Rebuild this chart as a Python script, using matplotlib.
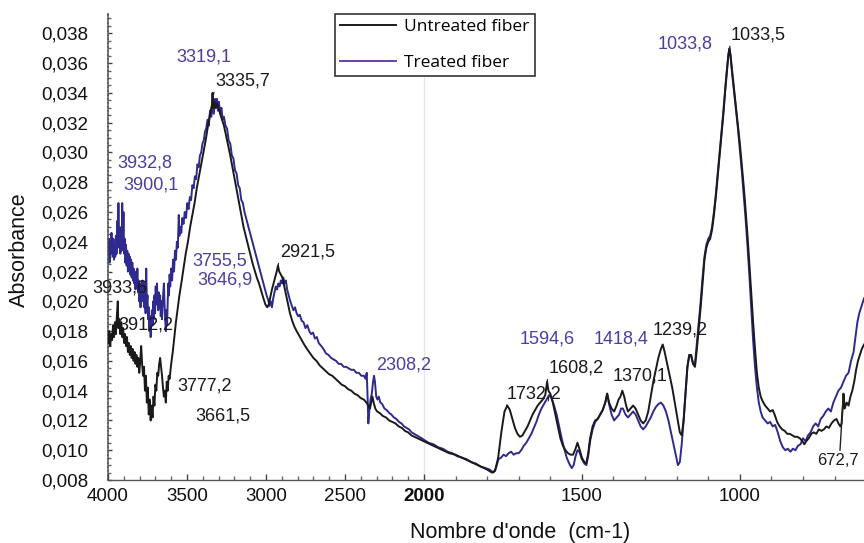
import numpy as np
import matplotlib
matplotlib.use("Agg")
import matplotlib.pyplot as plt
from matplotlib.ticker import FixedLocator, FixedFormatter, NullFormatter

# ---------------- data (wavenumber cm-1, absorbance) ----------------
untreated = [
    (3998, 0.0172), (3992, 0.0180), (3986, 0.0170), (3980, 0.0178), (3974, 0.0174),
    (3968, 0.0184), (3962, 0.0176), (3956, 0.0186), (3950, 0.0178), (3944, 0.0190),
    (3938, 0.0200), (3934, 0.0182), (3928, 0.0188), (3922, 0.0178), (3916, 0.0186),
    (3910, 0.0176), (3904, 0.0182), (3898, 0.0172), (3892, 0.0178), (3886, 0.0170),
    (3880, 0.0176), (3874, 0.0166), (3868, 0.0172), (3862, 0.0164), (3856, 0.0170),
    (3850, 0.0162), (3844, 0.0168), (3838, 0.0160), (3832, 0.0166), (3826, 0.0158),
    (3820, 0.0164), (3814, 0.0156), (3808, 0.0162), (3802, 0.0152), (3796, 0.0160),
    (3790, 0.0170), (3784, 0.0158), (3778, 0.0150), (3772, 0.0156), (3766, 0.0140),
    (3760, 0.0150), (3754, 0.0132), (3748, 0.0142), (3742, 0.0124), (3736, 0.0134),
    (3730, 0.0120), (3724, 0.0130), (3718, 0.0122), (3712, 0.0136), (3706, 0.0130),
    (3700, 0.0144), (3694, 0.0140), (3688, 0.0152), (3682, 0.0150), (3676, 0.0158),
    (3670, 0.0162), (3664, 0.0156), (3658, 0.0150), (3652, 0.0142), (3646, 0.0136),
    (3640, 0.0140), (3634, 0.0132), (3628, 0.0146), (3622, 0.0140), (3616, 0.0150),
    (3610, 0.0148), (3600, 0.0158), (3590, 0.0166), (3580, 0.0176), (3570, 0.0186),
    (3560, 0.0194), (3548, 0.0204), (3536, 0.0212), (3522, 0.0222), (3508, 0.0232),
    (3494, 0.0240), (3480, 0.0250), (3466, 0.0258), (3452, 0.0266), (3438, 0.0276),
    (3424, 0.0284), (3410, 0.0292), (3396, 0.0300), (3382, 0.0308), (3370, 0.0316),
    (3360, 0.0322), (3350, 0.0328), (3342, 0.0332), (3338, 0.0340), (3334, 0.0330),
    (3326, 0.0334), (3318, 0.0330), (3310, 0.0333), (3300, 0.0330), (3290, 0.0326),
    (3278, 0.0322), (3266, 0.0318), (3254, 0.0312), (3240, 0.0305), (3226, 0.0298),
    (3212, 0.0290), (3198, 0.0282), (3184, 0.0274), (3170, 0.0266), (3156, 0.0258),
    (3142, 0.0250), (3128, 0.0244), (3114, 0.0238), (3100, 0.0232), (3086, 0.0226),
    (3072, 0.0221), (3058, 0.0216), (3044, 0.0212), (3030, 0.0207), (3016, 0.0202),
    (3004, 0.0198), (2992, 0.0196), (2982, 0.0198), (2972, 0.0203), (2962, 0.0208),
    (2952, 0.0212), (2942, 0.0216), (2932, 0.0220), (2924, 0.0224), (2916, 0.0220),
    (2906, 0.0218), (2896, 0.0216), (2884, 0.0210), (2872, 0.0204), (2860, 0.0198),
    (2848, 0.0192), (2834, 0.0187), (2820, 0.0183), (2806, 0.0180), (2790, 0.0177),
    (2774, 0.0174), (2758, 0.0171), (2740, 0.0168), (2720, 0.0165), (2700, 0.0162),
    (2680, 0.0160), (2660, 0.0157), (2640, 0.0155), (2620, 0.0153), (2600, 0.0151),
    (2580, 0.0150), (2560, 0.0148), (2540, 0.0146), (2520, 0.0144), (2500, 0.0143),
    (2480, 0.0141), (2460, 0.0140), (2440, 0.0138), (2420, 0.0137), (2400, 0.0135),
    (2380, 0.0134), (2364, 0.0132), (2352, 0.0130), (2342, 0.0128), (2334, 0.0132),
    (2326, 0.0136), (2318, 0.0132), (2308, 0.0128), (2296, 0.0126), (2280, 0.0125),
    (2260, 0.0123), (2240, 0.0122), (2220, 0.0120), (2200, 0.0119), (2180, 0.0118),
    (2160, 0.0116), (2140, 0.0115), (2120, 0.0113), (2100, 0.0112), (2080, 0.0110),
    (2060, 0.0109), (2040, 0.0108), (2020, 0.0107), (2000, 0.0106), (1980, 0.0104),
    (1960, 0.0102), (1940, 0.0100), (1920, 0.0098), (1900, 0.0097), (1880, 0.0095),
    (1860, 0.0093), (1840, 0.0091), (1820, 0.0089), (1800, 0.0087), (1785, 0.0085),
    (1775, 0.0086), (1765, 0.0095), (1755, 0.0112), (1745, 0.0126), (1736, 0.0130),
    (1728, 0.0127), (1720, 0.0121), (1712, 0.0115), (1704, 0.0111), (1696, 0.0109),
    (1688, 0.0110), (1680, 0.0113), (1672, 0.0116), (1664, 0.0120), (1656, 0.0124),
    (1648, 0.0127), (1640, 0.0130), (1632, 0.0132), (1624, 0.0134), (1616, 0.0137),
    (1610, 0.0146), (1606, 0.0140), (1600, 0.0138), (1592, 0.0132), (1584, 0.0124),
    (1576, 0.0116), (1568, 0.0108), (1560, 0.0103), (1552, 0.0100), (1544, 0.0098),
    (1536, 0.0097), (1528, 0.0097), (1520, 0.0101), (1514, 0.0105), (1508, 0.0101),
    (1500, 0.0095), (1492, 0.0092), (1486, 0.0091), (1480, 0.0098), (1474, 0.0108),
    (1466, 0.0116), (1458, 0.0120), (1450, 0.0121), (1442, 0.0124), (1434, 0.0127),
    (1426, 0.0132), (1420, 0.0138), (1414, 0.0132), (1406, 0.0128), (1398, 0.0126),
    (1390, 0.0130), (1384, 0.0134), (1378, 0.0136), (1372, 0.0140), (1366, 0.0136),
    (1360, 0.0130), (1354, 0.0126), (1346, 0.0128), (1338, 0.0130), (1330, 0.0128),
    (1322, 0.0124), (1314, 0.0120), (1306, 0.0118), (1298, 0.0120), (1290, 0.0126),
    (1282, 0.0136), (1274, 0.0146), (1266, 0.0154), (1258, 0.0162), (1250, 0.0168),
    (1244, 0.0171), (1238, 0.0166), (1230, 0.0158), (1222, 0.0150), (1214, 0.0142),
    (1206, 0.0132), (1198, 0.0122), (1190, 0.0112), (1184, 0.0110), (1178, 0.0120),
    (1172, 0.0138), (1166, 0.0156), (1160, 0.0164), (1154, 0.0164), (1148, 0.0158),
    (1142, 0.0156), (1136, 0.0168), (1130, 0.0182), (1124, 0.0196), (1118, 0.0212),
    (1112, 0.0228), (1106, 0.0236), (1100, 0.0240), (1094, 0.0242), (1088, 0.0248),
    (1082, 0.0258), (1076, 0.0270), (1070, 0.0284), (1064, 0.0298), (1058, 0.0312),
    (1052, 0.0326), (1046, 0.0342), (1040, 0.0356), (1036, 0.0366), (1033, 0.0369),
    (1030, 0.0366), (1024, 0.0354), (1018, 0.0342), (1012, 0.0330), (1006, 0.0318),
    (1000, 0.0306), (994, 0.0292), (988, 0.0278), (982, 0.0262), (976, 0.0245),
    (970, 0.0226), (964, 0.0206), (958, 0.0186), (952, 0.0168), (946, 0.0152),
    (940, 0.0142), (934, 0.0136), (928, 0.0133), (920, 0.0130), (912, 0.0128),
    (904, 0.0126), (896, 0.0127), (890, 0.0124), (882, 0.0119), (874, 0.0116),
    (866, 0.0114), (858, 0.0113), (850, 0.0111), (842, 0.0111), (834, 0.0110),
    (826, 0.0109), (818, 0.0109), (810, 0.0108), (802, 0.0106), (796, 0.0104),
    (790, 0.0106), (782, 0.0108), (774, 0.0111), (766, 0.0112), (758, 0.0111),
    (750, 0.0114), (742, 0.0113), (734, 0.0114), (726, 0.0116), (718, 0.0115),
    (710, 0.0118), (702, 0.0120), (694, 0.0121), (688, 0.0118), (682, 0.0116),
    (678, 0.0118), (674, 0.0130), (672, 0.0138), (668, 0.0128), (662, 0.0132),
    (656, 0.0130), (650, 0.0136), (644, 0.0140), (638, 0.0146), (632, 0.0154),
    (626, 0.0160), (620, 0.0164), (614, 0.0168), (607, 0.0171),
]

treated = [
    (3998, 0.0232), (3994, 0.0242), (3990, 0.0226), (3986, 0.0240), (3982, 0.0232),
    (3978, 0.0246), (3974, 0.0236), (3970, 0.0230), (3966, 0.0242), (3962, 0.0228),
    (3958, 0.0238), (3954, 0.0230), (3950, 0.0244), (3946, 0.0232), (3942, 0.0254),
    (3938, 0.0236), (3934, 0.0266), (3930, 0.0240), (3926, 0.0250), (3922, 0.0232),
    (3918, 0.0246), (3914, 0.0234), (3910, 0.0266), (3906, 0.0238), (3902, 0.0260),
    (3898, 0.0232), (3894, 0.0242), (3890, 0.0226), (3886, 0.0238), (3882, 0.0224),
    (3878, 0.0234), (3874, 0.0220), (3870, 0.0232), (3866, 0.0222), (3862, 0.0230),
    (3858, 0.0218), (3854, 0.0228), (3850, 0.0216), (3846, 0.0226), (3842, 0.0214),
    (3838, 0.0222), (3834, 0.0212), (3830, 0.0220), (3826, 0.0208), (3822, 0.0218),
    (3818, 0.0210), (3814, 0.0222), (3810, 0.0206), (3806, 0.0214), (3802, 0.0200),
    (3798, 0.0212), (3794, 0.0196), (3790, 0.0210), (3786, 0.0200), (3782, 0.0214),
    (3778, 0.0204), (3774, 0.0212), (3770, 0.0196), (3766, 0.0206), (3762, 0.0192),
    (3758, 0.0222), (3754, 0.0198), (3750, 0.0204), (3746, 0.0188), (3742, 0.0196),
    (3738, 0.0180), (3734, 0.0190), (3730, 0.0176), (3726, 0.0186), (3722, 0.0194),
    (3718, 0.0184), (3714, 0.0200), (3710, 0.0188), (3706, 0.0204), (3702, 0.0192),
    (3698, 0.0210), (3694, 0.0198), (3690, 0.0212), (3686, 0.0200), (3682, 0.0194),
    (3678, 0.0206), (3674, 0.0196), (3670, 0.0204), (3666, 0.0190), (3662, 0.0200),
    (3658, 0.0188), (3654, 0.0198), (3650, 0.0206), (3646, 0.0212), (3642, 0.0198),
    (3638, 0.0188), (3634, 0.0180), (3630, 0.0194), (3626, 0.0184), (3622, 0.0200),
    (3618, 0.0212), (3614, 0.0204), (3610, 0.0218), (3606, 0.0210), (3600, 0.0222),
    (3594, 0.0214), (3588, 0.0228), (3582, 0.0220), (3576, 0.0234), (3570, 0.0228),
    (3564, 0.0240), (3558, 0.0236), (3552, 0.0258), (3548, 0.0244), (3542, 0.0250),
    (3536, 0.0246), (3530, 0.0256), (3522, 0.0252), (3514, 0.0260), (3506, 0.0256),
    (3498, 0.0266), (3490, 0.0262), (3482, 0.0270), (3474, 0.0268), (3466, 0.0278),
    (3458, 0.0276), (3450, 0.0284), (3442, 0.0282), (3434, 0.0292), (3426, 0.0290),
    (3418, 0.0298), (3410, 0.0300), (3402, 0.0306), (3394, 0.0308), (3386, 0.0314),
    (3378, 0.0316), (3370, 0.0322), (3362, 0.0318), (3354, 0.0328), (3346, 0.0324),
    (3338, 0.0332), (3330, 0.0326), (3322, 0.0336), (3316, 0.0330), (3310, 0.0336),
    (3304, 0.0328), (3298, 0.0334), (3290, 0.0326), (3282, 0.0330), (3274, 0.0322),
    (3266, 0.0324), (3256, 0.0318), (3246, 0.0316), (3236, 0.0308), (3226, 0.0306),
    (3216, 0.0298), (3206, 0.0296), (3196, 0.0288), (3186, 0.0286), (3176, 0.0278),
    (3166, 0.0276), (3156, 0.0268), (3146, 0.0266), (3136, 0.0260), (3126, 0.0256),
    (3116, 0.0252), (3106, 0.0248), (3096, 0.0244), (3086, 0.0240), (3076, 0.0236),
    (3066, 0.0232), (3056, 0.0228), (3046, 0.0224), (3036, 0.0220), (3026, 0.0216),
    (3016, 0.0212), (3006, 0.0208), (2996, 0.0204), (2986, 0.0201), (2978, 0.0197),
    (2970, 0.0200), (2962, 0.0196), (2954, 0.0202), (2946, 0.0206), (2938, 0.0210),
    (2930, 0.0208), (2922, 0.0212), (2914, 0.0210), (2906, 0.0214), (2898, 0.0212),
    (2890, 0.0216), (2882, 0.0212), (2874, 0.0214), (2866, 0.0208), (2856, 0.0204),
    (2846, 0.0200), (2836, 0.0197), (2826, 0.0194), (2816, 0.0196), (2806, 0.0192),
    (2796, 0.0190), (2786, 0.0191), (2774, 0.0187), (2762, 0.0186), (2750, 0.0182),
    (2738, 0.0184), (2726, 0.0180), (2714, 0.0178), (2702, 0.0179), (2690, 0.0175),
    (2678, 0.0176), (2666, 0.0172), (2650, 0.0170), (2636, 0.0168), (2620, 0.0165),
    (2604, 0.0164), (2588, 0.0162), (2572, 0.0161), (2556, 0.0160), (2540, 0.0158),
    (2524, 0.0158), (2508, 0.0156), (2492, 0.0156), (2476, 0.0155), (2460, 0.0154),
    (2444, 0.0154), (2428, 0.0152), (2412, 0.0152), (2396, 0.0150), (2380, 0.0150),
    (2370, 0.0148), (2362, 0.0152), (2356, 0.0134), (2352, 0.0118), (2346, 0.0126),
    (2338, 0.0134), (2330, 0.0138), (2322, 0.0146), (2316, 0.0150), (2310, 0.0146),
    (2302, 0.0136), (2294, 0.0134), (2286, 0.0136), (2276, 0.0132), (2264, 0.0131),
    (2250, 0.0128), (2236, 0.0127), (2220, 0.0125), (2206, 0.0124), (2190, 0.0122),
    (2174, 0.0121), (2158, 0.0119), (2142, 0.0118), (2126, 0.0116), (2110, 0.0115),
    (2094, 0.0114), (2078, 0.0112), (2062, 0.0111), (2046, 0.0110), (2030, 0.0109),
    (2014, 0.0108), (2000, 0.0107), (1985, 0.0105), (1970, 0.0104), (1955, 0.0102),
    (1940, 0.0101), (1925, 0.0099), (1910, 0.0098), (1895, 0.0096), (1880, 0.0095),
    (1865, 0.0094), (1850, 0.0092), (1835, 0.0091), (1820, 0.0089), (1805, 0.0088),
    (1792, 0.0087), (1780, 0.0085), (1772, 0.0088), (1764, 0.0094), (1756, 0.0095),
    (1748, 0.0097), (1740, 0.0096), (1732, 0.0098), (1724, 0.0099), (1716, 0.0097),
    (1708, 0.0098), (1700, 0.0098), (1692, 0.0100), (1684, 0.0103), (1676, 0.0105),
    (1668, 0.0108), (1660, 0.0111), (1652, 0.0115), (1644, 0.0119), (1636, 0.0124),
    (1628, 0.0128), (1620, 0.0131), (1612, 0.0134), (1604, 0.0137), (1596, 0.0135),
    (1588, 0.0130), (1580, 0.0124), (1572, 0.0116), (1564, 0.0108), (1556, 0.0101),
    (1548, 0.0095), (1540, 0.0091), (1532, 0.0088), (1526, 0.0090), (1520, 0.0096),
    (1514, 0.0100), (1508, 0.0099), (1500, 0.0094), (1492, 0.0091), (1486, 0.0090),
    (1480, 0.0096), (1474, 0.0106), (1466, 0.0114), (1458, 0.0119), (1450, 0.0121),
    (1442, 0.0124), (1434, 0.0127), (1426, 0.0132), (1420, 0.0138), (1414, 0.0131),
    (1406, 0.0124), (1398, 0.0120), (1390, 0.0122), (1382, 0.0124), (1376, 0.0128),
    (1370, 0.0128), (1362, 0.0124), (1354, 0.0122), (1346, 0.0124), (1338, 0.0126),
    (1330, 0.0124), (1322, 0.0120), (1314, 0.0116), (1306, 0.0114), (1298, 0.0116),
    (1290, 0.0119), (1282, 0.0122), (1274, 0.0126), (1266, 0.0129), (1258, 0.0131),
    (1250, 0.0132), (1242, 0.0130), (1234, 0.0126), (1226, 0.0120), (1218, 0.0112),
    (1210, 0.0104), (1202, 0.0096), (1196, 0.0090), (1190, 0.0092), (1184, 0.0104),
    (1178, 0.0120), (1172, 0.0138), (1166, 0.0156), (1160, 0.0164), (1154, 0.0163),
    (1148, 0.0158), (1142, 0.0158), (1136, 0.0172), (1130, 0.0186), (1124, 0.0200),
    (1118, 0.0216), (1112, 0.0230), (1106, 0.0238), (1100, 0.0242), (1094, 0.0244),
    (1088, 0.0250), (1082, 0.0260), (1076, 0.0272), (1070, 0.0286), (1064, 0.0300),
    (1058, 0.0314), (1052, 0.0328), (1046, 0.0344), (1040, 0.0358), (1036, 0.0366),
    (1033, 0.0370), (1030, 0.0366), (1024, 0.0352), (1018, 0.0340), (1012, 0.0328),
    (1006, 0.0316), (1000, 0.0302), (994, 0.0288), (988, 0.0272), (982, 0.0256),
    (976, 0.0238), (970, 0.0218), (964, 0.0196), (958, 0.0174), (952, 0.0156),
    (946, 0.0142), (940, 0.0132), (934, 0.0126), (928, 0.0122), (920, 0.0120),
    (912, 0.0118), (904, 0.0119), (896, 0.0116), (888, 0.0117), (880, 0.0112),
    (872, 0.0106), (864, 0.0102), (856, 0.0100), (848, 0.0101), (840, 0.0099),
    (832, 0.0101), (824, 0.0100), (816, 0.0103), (808, 0.0104), (800, 0.0108),
    (792, 0.0106), (784, 0.0110), (776, 0.0112), (768, 0.0116), (760, 0.0118),
    (752, 0.0116), (744, 0.0121), (736, 0.0123), (728, 0.0126), (720, 0.0128),
    (712, 0.0126), (704, 0.0132), (696, 0.0136), (688, 0.0140), (680, 0.0142),
    (672, 0.0146), (664, 0.0150), (656, 0.0152), (648, 0.0160), (640, 0.0166),
    (634, 0.0176), (628, 0.0186), (622, 0.0192), (616, 0.0196), (607, 0.0202),
]

series_names = ["Untreated fiber", "Treated fiber"]

y_ticks = [0.008, 0.010, 0.012, 0.014, 0.016, 0.018, 0.020, 0.022,
           0.024, 0.026, 0.028, 0.030, 0.032, 0.034, 0.036, 0.038]
y_tick_labels = ["0,008", "0,010", "0,012", "0,014", "0,016", "0,018", "0,020", "0,022",
                 "0,024", "0,026", "0,028", "0,030", "0,032", "0,034", "0,036", "0,038"]
x_ticks = [4000, 3500, 3000, 2500, 2000, 1500, 1000]
x_tick_labels = ["4000", "3500", "3000", "2500", "2000", "1500", "1000"]

# peak labels: (text, label_x, label_y, series index 0=untreated 1=treated, peak_x, peak_y or None)
peak_labels = [
    ("3319,1", 3570, 0.0364, 1, None, None),
    ("3335,7", 3323, 0.0348, 0, 3337, 0.0336),
    ("3932,8", 3943, 0.0293, 1, None, None),
    ("3900,1", 3905, 0.0278, 1, None, None),
    ("3933,6", 4100, 0.0209, 0, None, None),
    ("3912,2", 3937, 0.0184, 0, None, None),
    ("3777,2", 3563, 0.0143, 0, None, None),
    ("3661,5", 3449, 0.0123, 0, None, None),
    ("3755,5", 3468, 0.0227, 1, None, None),
    ("3646,9", 3437, 0.0214, 1, None, None),
    ("2921,5", 2911, 0.0233, 0, 2924, 0.0224),
    ("2308,2", 2304, 0.0157, 1, None, None),
    ("1732,2", 1737, 0.0138, 0, 1738, 0.0130),
    ("1608,2", 1606, 0.0155, 0, 1610, 0.0146),
    ("1594,6", 1696, 0.0175, 1, None, None),
    ("1418,4", 1462, 0.0175, 1, None, None),
    ("1370,1", 1402, 0.0150, 0, None, None),
    ("1239,2", 1275, 0.0181, 0, None, None),
    ("1033,8", 1259, 0.0373, 1, None, None),
    ("1033,5", 1029, 0.0379, 0, 1033, 0.0369),
]
small_label = ("672,7", 756, 0.0093, 0, 672, 0.0138)

# ---------------- style ----------------
col_untreated = "#1a1a1a"
col_treated = "#2e2a8e"
col_label_treated = "#4a3f9f"
plt.rcParams["font.family"] = ["Liberation Sans", "DejaVu Sans"]


def fwd(x):
    x = np.asarray(x, dtype=float)
    return np.where(x > 2000, 2000 + (x - 2000) / 2.0, x)


def inv(u):
    u = np.asarray(u, dtype=float)
    return np.where(u > 2000, 2000 + (u - 2000) * 2.0, u)


fig = plt.figure(figsize=(8.64, 5.43), dpi=100)
ax = fig.add_axes([108 / 864, 63 / 543, 756 / 864, 466 / 543])
ax.set_xscale("function", functions=(fwd, inv))

wu, au = zip(*untreated)
wt, at = zip(*treated)
l1, = ax.plot(wu, au, color=col_untreated, lw=1.4, label=series_names[0], zorder=3)
l2, = ax.plot(wt, at, color=col_treated, lw=1.4, label=series_names[1], zorder=2)

ax.set_xlim(4000, 607)
ax.set_ylim(0.008, 0.0393)

# scale-break marker at 2000
ax.axvline(2000, color="#e6e6e6", lw=0.9, zorder=0)

ax.xaxis.set_major_locator(FixedLocator(x_ticks))
ax.xaxis.set_major_formatter(FixedFormatter(x_tick_labels))
ax.xaxis.set_minor_locator(FixedLocator(list(range(3900, 2000, -100)) + list(range(1900, 600, -100))))
ax.xaxis.set_minor_formatter(NullFormatter())
ax.yaxis.set_major_locator(FixedLocator(y_ticks))
ax.yaxis.set_major_formatter(FixedFormatter(y_tick_labels))
ax.yaxis.set_minor_locator(FixedLocator(list(np.arange(0.008, 0.0394, 0.0005))))

ax.tick_params(axis="x", which="major", direction="in", length=4, width=1, colors="#444",
               labelsize=13.5, labelcolor="#111", pad=6)
ax.tick_params(axis="x", which="minor", direction="in", length=3, width=1, colors="#666")
ax.tick_params(axis="y", which="major", direction="in", length=3, width=1, colors="#444",
               labelsize=13.5, labelcolor="#111", pad=14)
ax.tick_params(axis="y", which="minor", direction="in", length=2, width=1, colors="#666")
for lbl in ax.get_xticklabels():
    if lbl.get_text() == "2000":
        lbl.set_fontweight("bold")

for s in ("top", "right"):
    ax.spines[s].set_visible(False)
ax.spines["left"].set_linestyle((0, (1.2, 1.2)))
ax.spines["left"].set_color("#444")
ax.spines["left"].set_linewidth(1.2)
ax.spines["bottom"].set_color("#555")
ax.spines["bottom"].set_linewidth(1.0)

ax.set_xlabel("Nombre d'onde  (cm-1)", fontsize=15.5, color="#111")
ax.xaxis.set_label_coords((520 - 108) / 756, -(522 - 480) / 466)
ax.set_ylabel("Absorbance", fontsize=15.5, color="#111")
ax.yaxis.set_label_coords(-(108 - 30) / 756, 0.494)

label_cols = [col_untreated, col_label_treated]
for text, lx, ly, si, px, py in peak_labels:
    c = label_cols[si]
    if px is None:
        ax.text(lx, ly, text, color=c, fontsize=13, ha="left", va="center", clip_on=False, zorder=5)
    else:
        ax.annotate(text, xy=(px, py), xytext=(lx, ly), textcoords="data", color=c,
                    fontsize=13, ha="left", va="center", zorder=5,
                    arrowprops=dict(arrowstyle="-", color="#222", lw=0.9, shrinkA=0, shrinkB=0,
                                    relpos=(0.0, 0.15)))
t, lx, ly, si, px, py = small_label
ax.annotate(t, xy=(px, py), xytext=(lx, ly), textcoords="data", color=label_cols[si],
            fontsize=12, ha="left", va="center", zorder=5,
            arrowprops=dict(arrowstyle="-", color="#222", lw=1.0, shrinkA=0, shrinkB=0,
                            relpos=(0.55, 1.0)))

leg = ax.legend(handles=[l1, l2], loc="upper left", bbox_to_anchor=(0.300, 1.0),
                frameon=True, fancybox=False, edgecolor="#333", framealpha=1,
                prop={"family": "Open Sans", "size": 12.5}, handlelength=3.2,
                labelspacing=1.1, borderpad=0.3, handletextpad=0.5, borderaxespad=0)
leg.get_frame().set_linewidth(1.2)
leg.get_lines()[1].set_color("#6a3fa8")

fig.savefig("out.png", dpi=100)
